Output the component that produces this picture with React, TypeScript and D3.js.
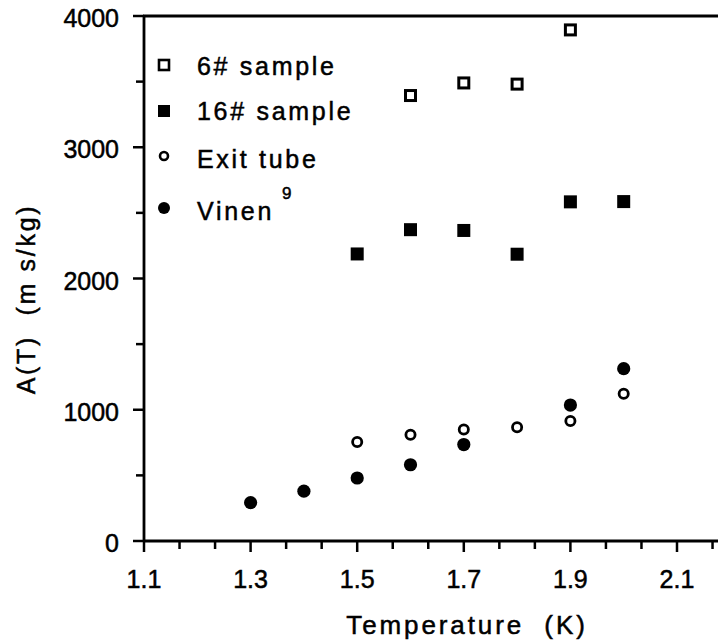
import React from "react";
import * as d3 from "d3";

const sample6T = [1.6, 1.7, 1.8, 1.9];
const sample6A = [3394, 3490, 3481, 3894];
const sample16T = [1.5, 1.6, 1.7, 1.8, 1.9, 2.0];
const sample16A = [2187, 2372, 2366, 2185, 2584, 2586];
const exitT = [1.5, 1.6, 1.7, 1.8, 1.9, 2.0];
const exitA = [754, 810, 850, 867, 914, 1122];
const vinenT = [1.3, 1.4, 1.5, 1.6, 1.7, 1.9, 2.0];
const vinenA = [293, 380, 480, 581, 735, 1036, 1313];

const xMajorTicks = [1.1, 1.3, 1.5, 1.7, 1.9, 2.1];
const yMajorTicks = [0, 1000, 2000, 3000, 4000];
const legendLabels = ["6# sample", "16# sample", "Exit tube", "Vinen"];

const FONT = "'Liberation Sans', Arial, sans-serif";

export default function App() {
  const W = 718, H = 641;
  const x = d3.scaleLinear().domain([1.1, 2.1]).range([144, 677]);
  const y = d3.scaleLinear().domain([0, 4000]).range([541, 16]);
  const x0 = x(1.1), y0 = y(0), yTop = y(4000);
  const xRight = W;

  const xTicksAll = d3.range(0, 17).map((i) => 1.1 + i * (0.2 / 3)).filter((t) => x(t) <= xRight);
  const yTicksAll = d3.range(0, 9).map((i) => i * 500);

  const sq = 13;
  const txt = { fill: "#000", stroke: "#000", strokeWidth: 0.5 };
  return (
    <svg width={W} height={H} style={{ position: "absolute", left: 0, top: 0, background: "#fff", fontFamily: FONT }}>
      <rect x={0} y={0} width={W} height={H} fill="#fff" />
      {/* axes */}
      <line x1={x0} y1={yTop - 1} x2={x0} y2={y0 + 1} stroke="#000" strokeWidth={2.8} />
      <line x1={x0 - 1} y1={yTop} x2={xRight} y2={yTop} stroke="#000" strokeWidth={3} />
      <line x1={x0 - 1} y1={y0} x2={xRight} y2={y0} stroke="#000" strokeWidth={3} />
      {xTicksAll.map((t, i) => (
        <line key={"xt" + i} x1={x(t)} x2={x(t)} y1={y0} y2={y0 + (i % 3 === 0 ? 11 : 8)} stroke="#000" strokeWidth={2.5} />
      ))}
      {yTicksAll.map((t, i) => (
        <line key={"yt" + i} x1={x0} x2={x0 - (i % 2 === 0 ? 11 : 8)} y1={y(t)} y2={y(t)} stroke="#000" strokeWidth={2.5} />
      ))}
      {xMajorTicks.map((t) => (
        <text key={"xl" + t} x={x(t)} y={588} fontSize={25} textAnchor="middle" {...txt}>
          {t.toFixed(1)}
        </text>
      ))}
      {yMajorTicks.map((t) => (
        <text key={"yl" + t} x={119} y={y(t) + 11} fontSize={25} textAnchor="end" {...txt}>
          {t}
        </text>
      ))}
      <text x={467} y={634} fontSize={26} letterSpacing={2.9} textAnchor="middle" {...txt} style={{ whiteSpace: "pre" }}>
        {"Temperature  (K)"}
      </text>
      <text transform={`translate(35,299) rotate(-90)`} fontSize={25} letterSpacing={2.7} textAnchor="middle" {...txt} style={{ whiteSpace: "pre" }}>
        {"A(T)  (m s/kg)"}
      </text>

      {/* data */}
      {sample6T.map((t, i) => (
        <rect key={"s6" + i} x={x(t) - sq / 2 + 1.5} y={y(sample6A[i]) - sq / 2 + 1.5} width={sq - 3} height={sq - 3} fill="#fff" stroke="#000" strokeWidth={3} />
      ))}
      {sample16T.map((t, i) => (
        <rect key={"s16" + i} x={x(t) - sq / 2} y={y(sample16A[i]) - sq / 2} width={sq} height={sq} fill="#000" />
      ))}
      {exitT.map((t, i) => (
        <circle key={"ex" + i} cx={x(t)} cy={y(exitA[i])} r={4.6} fill="#fff" stroke="#000" strokeWidth={2.8} />
      ))}
      {vinenT.map((t, i) => (
        <circle key={"vi" + i} cx={x(t)} cy={y(vinenA[i])} r={6.6} fill="#000" />
      ))}

      {/* legend */}
      <rect x={164 - 5} y={65 - 5} width={10} height={10} fill="#fff" stroke="#000" strokeWidth={2.6} />
      <rect x={164 - 6} y={111 - 6} width={12} height={12} fill="#000" />
      <circle cx={164} cy={156} r={4} fill="#fff" stroke="#000" strokeWidth={2.6} />
      <circle cx={164} cy={208} r={6} fill="#000" />
      {legendLabels.map((l, i) => (
        <text key={"lg" + i} x={197} y={[75, 120, 168, 220][i]} fontSize={25} letterSpacing={2.7} {...txt}>
          {l}
        </text>
      ))}
      <text x={282} y={199} fontSize={17} {...txt}>9</text>
    </svg>
  );
}
